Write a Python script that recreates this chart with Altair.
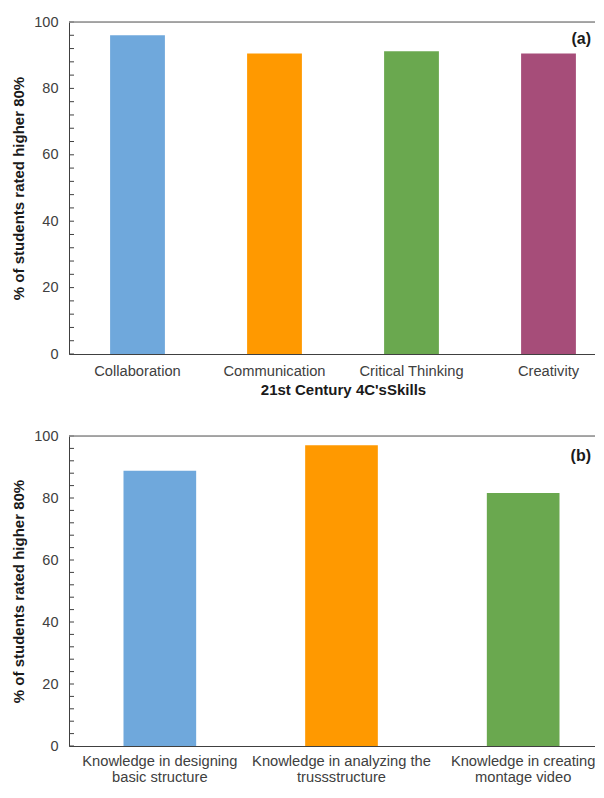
import altair as alt
import pandas as pd

# ---- data ----
cats_a = ["Collaboration", "Communication", "Critical Thinking", "Creativity"]
vals_a = [96.0, 90.5, 91.2, 90.5]
colors_a = ["#6FA8DC", "#FF9900", "#6AA84F", "#A64D79"]

cats_b = ["Knowledge in designing\nbasic structure",
          "Knowledge in analyzing the\ntrussstructure",
          "Knowledge in creating\nmontage video"]
vals_b = [88.8, 97.0, 81.6]
colors_b = ["#6FA8DC", "#FF9900", "#6AA84F"]

y_tick_labels = [0, 20, 40, 60, 80, 100]
minor_ticks = list(range(0, 101, 4))

FONT = "Liberation Sans"
AXIS_COL = "#404040"
LABEL_COL = "#404040"
TITLE_COL = "#1a1a1a"
VISIBLE_W = 524  # plot width visible before the right crop


def panel(cats, vals, colors, width, height, xtitle, tag, tag_y, lpad, lh):
    df = pd.DataFrame({"cat": cats, "val": vals})
    y_enc = alt.Y("val:Q",
                  scale=alt.Scale(domain=[0, 100], nice=False, zero=True),
                  axis=alt.Axis(values=y_tick_labels, ticks=False, grid=False,
                                domainColor=AXIS_COL, domainWidth=1,
                                labelFontSize=14.5, labelColor=LABEL_COL,
                                labelPadding=11, labelFont=FONT,
                                title="% of students rated higher 80%",
                                titleFontSize=15, titleFontWeight="bold",
                                titleColor=TITLE_COL, titleFont=FONT,
                                titlePadding=7))
    common = dict(labelAngle=0, ticks=False, domainColor=AXIS_COL,
                  domainWidth=1, labelFontSize=14.7, labelColor=LABEL_COL,
                  labelFont=FONT, labelPadding=lpad, labelLineHeight=lh,
                  labelExpr="split(datum.label, '\\n')")
    if xtitle:
        x_axis = alt.Axis(title=xtitle, titleFontSize=15, titleFontWeight="bold",
                          titleColor=TITLE_COL, titleFont=FONT, titlePadding=5,
                          **common)
    else:
        x_axis = alt.Axis(title=None, **common)
    bars = alt.Chart(df).mark_bar().encode(
        x=alt.X("cat:N", sort=cats,
                scale=alt.Scale(paddingInner=0.6, paddingOuter=0.3,
                                round=False),
                axis=x_axis),
        y=y_enc,
        color=alt.Color("cat:N", scale=alt.Scale(domain=cats, range=colors),
                        legend=None),
    )
    ticks = alt.Chart(pd.DataFrame({"val": minor_ticks})).mark_rule(
        color=AXIS_COL, strokeWidth=1).encode(
        y=y_enc, x=alt.value(0), x2=alt.value(5))
    one = pd.DataFrame({"k": [0]})
    top = alt.Chart(one).mark_rule(color="#8c8c8c", strokeWidth=1.3).encode(
        x=alt.value(0), x2=alt.value(width), y=alt.value(0))
    label = alt.Chart(one).mark_text(
        text=tag, align="right", baseline="middle", fontSize=16,
        fontWeight="bold", font=FONT, color=TITLE_COL).encode(
        x=alt.value(VISIBLE_W - 2), y=alt.value(tag_y))
    return alt.layer(bars, ticks, top, label).properties(width=width,
                                                          height=height)


pa = panel(cats_a, vals_a, colors_a, 548, 332, "21st Century 4C'sSkills",
           "(a)", 17, 9, 17)
pb = panel(cats_b, vals_b, colors_b, 545, 310, None, "(b)", 20, 7, 16)

chart = alt.vconcat(pa, pb, spacing=28).properties(
    padding={"left": 3, "top": 5, "right": -24, "bottom": 0}
).configure_view(stroke=None).configure(font=FONT)

chart.save("out.html", embed_options={"renderer": "svg", "actions": False})
